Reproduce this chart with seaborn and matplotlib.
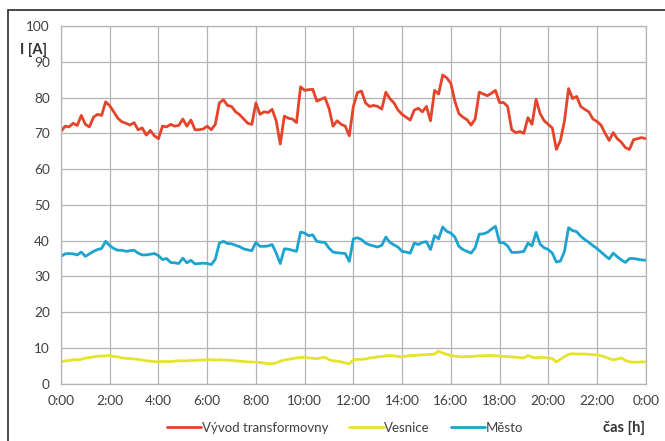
import numpy as np
import pandas as pd
import seaborn as sns
import matplotlib.pyplot as plt
from matplotlib.patches import Rectangle

# 10 minute readings, 0:00 .. 24:00 (145 values)
vyvod = [
    70.5, 72.0, 71.8, 72.8, 72.2, 75.0, 72.5, 71.8, 74.5, 75.3, 75.0, 78.8,
    77.7, 76.0, 74.2, 73.2, 72.8, 72.3, 73.0, 71.0, 71.5, 69.5, 70.8, 69.3,
    68.5, 72.0, 71.8, 72.5, 72.0, 72.2, 74.0, 72.0, 73.7, 71.0, 71.0, 71.2,
    72.0, 71.0, 72.5, 78.5, 79.4, 77.8, 77.5, 76.0, 75.2, 74.0, 72.8, 72.5,
    78.5, 75.3, 76.0, 75.8, 76.7, 73.5, 67.0, 74.8, 74.2, 74.0, 73.0, 83.0,
    82.0, 82.2, 82.3, 79.0, 79.5, 80.0, 77.0, 72.0, 73.5, 72.5, 72.0, 69.3,
    77.5, 81.4, 81.8, 78.5, 77.5, 77.8, 77.5, 76.8, 81.5, 79.7, 78.5, 76.5,
    75.3, 74.5, 73.7, 76.5, 77.0, 76.0, 77.5, 73.5, 82.0, 81.0, 86.3, 85.5,
    84.0, 79.0, 75.5, 74.5, 73.8, 72.3, 74.0, 81.5, 81.0, 80.5, 81.2, 82.0,
    78.6, 78.6, 77.5, 71.0, 70.2, 70.5, 70.0, 74.4, 72.5, 79.5, 75.5, 73.5,
    72.5, 71.5, 65.5, 68.0, 73.5, 82.5, 79.7, 80.3, 77.5, 76.7, 76.0, 74.0,
    73.3, 72.3, 70.0, 68.0, 70.2, 68.5, 67.5, 66.0, 65.5, 68.2, 68.5, 68.8,
    68.5,
]

vesnice = [
    6.1, 6.4, 6.5, 6.7, 6.7, 6.8, 7.2, 7.3, 7.5, 7.7, 7.7, 7.8,
    7.9, 7.6, 7.5, 7.2, 7.1, 7.0, 6.9, 6.8, 6.6, 6.4, 6.3, 6.2,
    6.1, 6.2, 6.2, 6.2, 6.3, 6.4, 6.4, 6.4, 6.5, 6.5, 6.6, 6.6,
    6.7, 6.7, 6.6, 6.7, 6.6, 6.6, 6.5, 6.4, 6.3, 6.2, 6.1, 6.1,
    6.0, 5.9, 5.8, 5.6, 5.6, 5.8, 6.3, 6.6, 6.8, 7.0, 7.2, 7.3,
    7.4, 7.2, 7.1, 7.0, 7.2, 7.4, 6.7, 6.4, 6.3, 6.1, 5.8, 5.6,
    6.7, 6.8, 6.8, 6.9, 7.2, 7.3, 7.5, 7.6, 7.8, 7.9, 7.8, 7.6,
    7.5, 7.7, 7.9, 7.9, 8.0, 8.1, 8.1, 8.2, 8.3, 9.1, 8.6, 8.2,
    7.9, 7.7, 7.6, 7.5, 7.6, 7.6, 7.7, 7.8, 7.8, 7.9, 7.9, 7.8,
    7.7, 7.6, 7.6, 7.5, 7.4, 7.3, 7.2, 7.9, 7.4, 7.2, 7.4, 7.3,
    7.2, 7.0, 6.1, 6.8, 7.6, 8.2, 8.4, 8.3, 8.3, 8.3, 8.2, 8.1,
    8.1, 7.8, 7.5, 7.0, 6.7, 6.9, 7.2, 6.5, 6.1, 6.0, 6.0, 6.1,
    6.1,
]

mesto = [
    35.6, 36.3, 36.4, 36.3, 36.0, 36.8, 35.6, 36.3, 37.0, 37.5, 37.8, 39.8,
    38.6, 37.8, 37.3, 37.3, 37.0, 37.2, 37.3, 36.5, 36.0, 36.0, 36.2, 36.4,
    35.8, 34.7, 35.0, 33.9, 33.8, 33.6, 35.1, 33.8, 34.5, 33.5, 33.6, 33.7,
    33.6, 33.3, 34.8, 39.3, 39.8, 39.2, 39.1, 38.7, 38.3, 37.7, 37.4, 37.2,
    39.5, 38.4, 38.4, 38.5, 38.9, 36.5, 33.6, 37.7, 37.6, 37.3, 37.0, 42.4,
    42.1, 41.4, 41.6, 39.8, 39.6, 39.5, 37.9, 36.8, 36.6, 36.5, 36.4, 34.2,
    40.5, 40.8, 40.3, 39.3, 38.8, 38.5, 38.2, 38.7, 41.0, 39.5, 38.8, 38.2,
    37.0, 36.8, 36.5, 39.3, 38.9, 39.5, 39.7, 37.5, 41.4, 40.5, 43.8, 42.6,
    42.1, 41.0, 38.4, 37.5, 37.0, 36.5, 38.0, 41.8, 41.9, 42.3, 43.2, 44.0,
    39.5, 39.4, 38.5, 36.7, 36.7, 36.8, 37.0, 39.3, 38.5, 42.3, 39.0, 38.0,
    37.5, 36.5, 34.0, 34.3, 37.0, 43.6, 42.8, 42.5, 41.2, 40.3, 39.5, 38.6,
    37.8, 36.8, 35.8, 34.9, 36.5, 35.5, 34.6, 33.9, 35.0, 35.0, 34.8, 34.6,
    34.5,
]

hours = np.arange(len(vyvod)) / 6
tick_hours = list(range(0, 25, 2))
tick_labels = [f"{h % 24}:00" for h in tick_hours]

names = ["Vývod transformovny", "Vesnice", "Město"]
colors = ["#e5432a", "#e6e42a", "#1ca3cf"]

df = pd.concat([
    pd.DataFrame({"h": hours, "I": vals, "serie": name})
    for name, vals in zip(names, [vyvod, vesnice, mesto])
])

sns.set_style("white")
plt.rcParams['font.family'] = ['Lato', 'DejaVu Sans']

fig = plt.figure(figsize=(6.65, 4.41), dpi=100)
ax = fig.add_axes([61 / 665, 1 - 383.7 / 441, (645.7 - 61) / 665, (383.7 - 26) / 441])

sns.lineplot(data=df, x="h", y="I", hue="serie", palette=dict(zip(names, colors)),
             linewidth=2.0, ax=ax)

ax.set_xlim(0, 24)
ax.set_ylim(0, 100)
ax.set_xticks(tick_hours)
ax.set_xticklabels(tick_labels)
ax.set_yticks(range(0, 101, 10))
ax.grid(True, color="#b4b4b4", lw=0.9)
for s in ax.spines.values():
    s.set_color("#b4b4b4")
    s.set_linewidth(0.9)
ax.tick_params(axis="both", colors="#b4b4b4", length=4, width=0.9,
               labelcolor="#404040", labelsize=9.8, pad=4)
ax.set_xlabel("")
ax.set_ylabel("")

handles, labels = ax.get_legend_handles_labels()
ax.legend(handles, labels, loc="center", bbox_to_anchor=(345 / 665, 1 - 428 / 441),
          bbox_transform=fig.transFigure, ncol=3, frameon=False, fontsize=9.5,
          handlelength=2.6, handletextpad=0.05, columnspacing=1.6,
          labelcolor="#404040")

fig.text(20 / 665, 1 - 50 / 441, "I [A]", fontsize=10.5, fontweight="bold",
         color="#333333", va="center", ha="left")
fig.text(624 / 665, 1 - 428 / 441, "čas [h]", fontsize=10.5, fontweight="bold",
         color="#333333", va="center", ha="center")

fig.patches.append(Rectangle((8 / 665, -0.1), 1.2, 1.1 - 10 / 441, transform=fig.transFigure,
                             fill=False, edgecolor="#3a3a3a", lw=1.3))

fig.savefig("out.png", dpi=100)
